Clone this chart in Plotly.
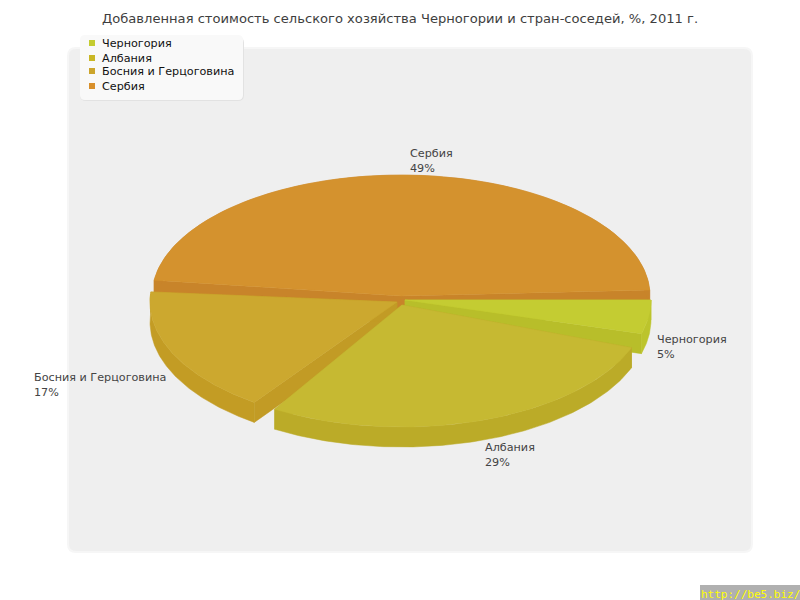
import numpy as np
import plotly.graph_objects as go

CATEGORIES = ["Черногория", "Албания", "Босния и Герцоговина", "Сербия"]
VALUES = [5, 29, 17, 49]

TITLE = "Добавленная стоимость сельского хозяйства Черногории и стран-соседей, %, 2011 г."
WATERMARK = "http://be5.biz/"

TOP_COLORS = ["#c4cc32", "#c6b932", "#cca82f", "#d4922e"]
CUT_COLORS = ["#b8be2a", "#bbab28", "#c29b25", "#c8842a"]
OUTER_COLORS = ["#bcc42c", "#bbab28", "#c39c24", "#c8842a"]
LEGEND_COLORS = ["#c4cc30", "#c9b725", "#cca52c", "#d8902c"]

# the canvas axes run in pixels, so these are all screen sizes
DEPTH = 20
APEX = [(405, 300), (402, 305), (397, 302), (401, 296)]
RADII = [(246, 122), (245, 122), (247, 123), (249, 121)]
# small angle corrections, the slices do not quite touch in the picture
PADS = [(0, -2), (2.5, -1.1), (2.9, 1.1), (3.9, -2.8)]
LABEL_POS = [(655, 347), (483, 455), (32, 385), (408, 161)]
DRAW_ORDER = [3, 0, 2, 1]

fig = go.Figure()

edges = np.concatenate([[0], np.cumsum(VALUES)]) * 3.6


def arc(i, a0, a1):
    t = np.radians(np.linspace(a0, a1, 120))
    cx, cy = APEX[i]
    rx, ry = RADII[i]
    return cx + rx * np.cos(t), cy + ry * np.sin(t)


def add_poly(x, y, color, name=None):
    fig.add_trace(
        go.Scatter(
            x=list(x) + [x[0]],
            y=list(y) + [y[0]],
            mode="lines",
            fill="toself",
            fillcolor=color,
            line=dict(color=color, width=0.5),
            name=name,
            hoverinfo="text" if name else "skip",
            text=name,
            showlegend=False,
        )
    )


for i in DRAW_ORDER:
    a0 = edges[i] + PADS[i][0]
    a1 = edges[i + 1] + PADS[i][1]
    ax, ay = arc(i, a0, a1)
    cx, cy = APEX[i]
    # cut faces
    add_poly([cx, ax[0], ax[0], cx], [cy, ay[0], ay[0] + DEPTH, cy + DEPTH], CUT_COLORS[i])
    add_poly([cx, ax[-1], ax[-1], cx], [cy, ay[-1], ay[-1] + DEPTH, cy + DEPTH], CUT_COLORS[i])
    # outer rim
    rim = (ay >= cy - 8) | (i == 3)
    rx_, ry_ = ax[rim], ay[rim]
    add_poly(np.r_[rx_, rx_[::-1]], np.r_[ry_, ry_[::-1] + DEPTH], OUTER_COLORS[i])
    # top face
    add_poly(np.r_[cx, ax], np.r_[cy, ay], TOP_COLORS[i], f"{CATEGORIES[i]}: {VALUES[i]}%")

shapes = [
    # plot panel
    dict(type="path", path="M 76 48 H 744 Q 752 48 752 56 V 544 Q 752 552 744 552 H 76 Q 68 552 68 544 V 56 Q 68 48 76 48 Z",
         fillcolor="#efefef", line=dict(color="#f6f6f6", width=2), layer="below"),
    # legend shadow and box
    dict(type="path", path="M 86 37 H 238 Q 244 37 244 43 V 95 Q 244 101 238 101 H 86 Q 80 101 80 95 V 43 Q 80 37 86 37 Z",
         fillcolor="#e2e2e2", line=dict(width=0), layer="below"),
    dict(type="path", path="M 85 35 H 238 Q 243 35 243 40 V 95 Q 243 100 238 100 H 85 Q 80 100 80 95 V 40 Q 80 35 85 35 Z",
         fillcolor="#f9f9f9", line=dict(width=0), layer="below"),
    # watermark strip
    dict(type="rect", x0=700, x1=800, y0=585, y1=600, fillcolor="#b0b0b0", line=dict(width=0), layer="below"),
]

legend_y = [43, 58, 71, 86]
fig.add_trace(
    go.Scatter(
        x=[92] * len(CATEGORIES),
        y=legend_y,
        mode="markers",
        marker=dict(symbol="square", size=6, color=LEGEND_COLORS),
        hoverinfo="skip",
        showlegend=False,
    )
)

annotations = [
    dict(x=100, y=18, text=TITLE, xanchor="left", yanchor="middle", showarrow=False,
         font=dict(family="DejaVu Sans", size=13.1, color="#3e3e3e")),
    dict(x=699, y=594, text=WATERMARK, xanchor="left", yanchor="middle", showarrow=False,
         font=dict(family="DejaVu Sans Mono", size=11, color="#ffff00")),
]
for name, y in zip(CATEGORIES, legend_y):
    annotations.append(dict(x=100, y=y, text=name, xanchor="left", yanchor="middle", showarrow=False,
                            font=dict(family="DejaVu Sans", size=11.2, color="#111111")))
for name, val, (lx, ly) in zip(CATEGORIES, VALUES, LABEL_POS):
    annotations.append(dict(x=lx, y=ly, text=f"{name}<br>{val}%", xanchor="left", yanchor="middle", align="left",
                            showarrow=False, font=dict(family="DejaVu Sans", size=11.2, color="#444444")))

fig.update_layout(
    width=800,
    height=600,
    margin=dict(l=0, r=0, t=0, b=0),
    paper_bgcolor="#ffffff",
    plot_bgcolor="#ffffff",
    xaxis=dict(range=[0, 800], visible=False, fixedrange=True),
    yaxis=dict(range=[600, 0], visible=False, fixedrange=True),
    shapes=shapes,
    annotations=annotations,
    showlegend=False,
)
fig.write_html("out.html", config={"displayModeBar": False}, post_script="document.body.style.margin = '0';")
